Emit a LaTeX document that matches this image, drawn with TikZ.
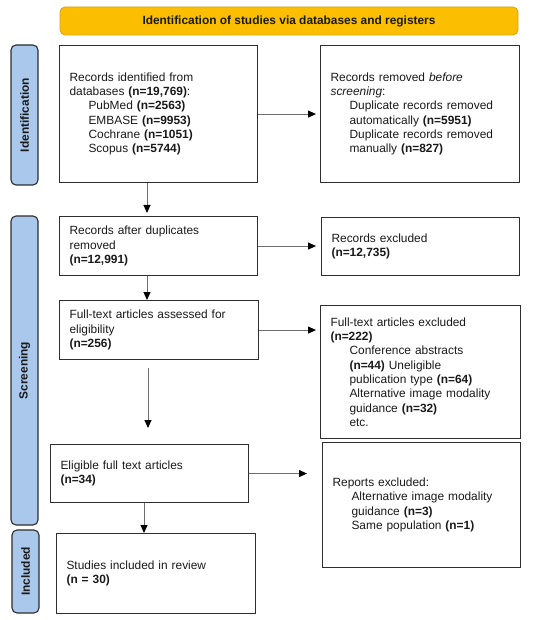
\documentclass[tikz,border=0pt]{standalone}
\usepackage{fontspec}
\setmainfont{Liberation Sans}
\usetikzlibrary{arrows.meta,calc}
\definecolor{gold}{HTML}{FBBE00}
\definecolor{goldline}{HTML}{D6A21A}
\definecolor{sideblue}{HTML}{A9C8EC}
\definecolor{boxline}{HTML}{2E2E2E}
\definecolor{arrline}{HTML}{6E6E6E}
\definecolor{txt}{HTML}{1A1A1A}
\newcommand\bnum[1]{\textbf{#1}}
\newcommand\ind{\hspace*{19pt}}
\tikzset{
  flowbox/.style={draw=boxline, line width=1.1pt, fill=white, anchor=north west,
    inner xsep=10pt, inner ysep=0pt, align=left, text=txt,
    font=\fontsize{11.9}{14.3}\selectfont},
  sidelabel/.style={draw=boxline, line width=1.1pt, fill=sideblue, rounded corners=5pt,
    rotate=90, inner sep=0pt, text=txt, font=\fontsize{11.9}{14.3}\selectfont\bfseries},
  banner/.style={draw=goldline, line width=0.8pt, fill=gold, rounded corners=5pt,
    inner sep=0pt, text=txt, font=\fontsize{11.9}{14.3}\selectfont\bfseries},
  arr/.style={draw=arrline, line width=1pt, -{Triangle[length=8pt,width=7pt,fill=black,color=black]}}
}
\begin{document}
\begin{tikzpicture}[x=1pt,y=-1pt]
\useasboundingbox (0,0) rectangle (550,620);
\fill[white] (0,0) rectangle (550,620);

\node[banner, minimum width=458pt, minimum height=28pt] (ban) at (289,21)
  {Identification of studies via databases and registers};

\node[sidelabel, minimum width=140pt, minimum height=27pt] (sid) at (24.5,115) {Identification};
\node[sidelabel, minimum width=309pt, minimum height=27pt] (sscr) at (24.5,370.5) {Screening};
\node[sidelabel, minimum width=83pt, minimum height=27pt] (sinc) at (25.5,571.5) {Included};

\node[flowbox, text width=178pt, minimum height=137pt] (b1) at (59,45)
  {Records identified from\\
   databases \bnum{(n=19,769)}:\\
   \ind PubMed \bnum{(n=2563)}\\
   \ind EMBASE \bnum{(n=9953)}\\
   \ind Cochrane \bnum{(n=1051)}\\
   \ind Scopus \bnum{(n=5744)}};

\node[flowbox, text width=179pt, minimum height=137pt] (b2) at (320,45)
  {Records removed \textit{before}\\
   \textit{screening}:\\
   \ind Duplicate records removed\\
   \ind automatically \bnum{(n=5951)}\\
   \ind Duplicate records removed\\
   \ind manually \bnum{(n=827)}};

\node[flowbox, text width=178pt, minimum height=59pt] (b3) at (59,216)
  {Records after duplicates\\
   removed\\
   \bnum{(n=12,991)}};

\node[flowbox, text width=178pt, minimum height=58pt] (b4) at (321,217)
  {Records excluded\\
   \bnum{(n=12,735)}};

\node[flowbox, text width=179pt, minimum height=59pt] (b5) at (59,300)
  {Full-text articles assessed for\\
   eligibility\\
   \bnum{(n=256)}};

\node[flowbox, text width=180pt, minimum height=133pt] (b6) at (320,305)
  {Full-text articles excluded\\
   \bnum{(n=222)}\\
   \ind Conference abstracts\\
   \ind \bnum{(n=44)} Uneligible\\
   \ind publication type \bnum{(n=64)}\\
   \ind Alternative image modality\\
   \ind guidance \bnum{(n=32)}\\
   \ind etc.};

\node[flowbox, text width=178pt, minimum height=58pt] (b7) at (50,444)
  {Eligible full text articles\\
   \bnum{(n=34)}};

\node[flowbox, text width=178pt, minimum height=125pt] (b8) at (322,442)
  {Reports excluded:\\
   \ind Alternative image modality\\
   \ind guidance \bnum{(n=3)}\\
   \ind Same population \bnum{(n=1)}};

\node[flowbox, text width=179pt, minimum height=80pt] (b9) at (56,533)
  {Studies included in review\\
   \bnum{(n = 30)}};

\coordinate (v1) at (147,0);
\coordinate (v3) at (148,0);
\coordinate (v4) at (144,0);

\draw[arr, shorten >=4pt] (b1.east) -- (b2.west |- b1.east);
\draw[arr, shorten >=5pt] (b3.east) -- (b4.west |- b3.east);
\draw[arr, shorten >=4pt] (b5.east) -- (b6.west |- b5.east);
\draw[arr, shorten >=15pt] (b7.east) -- (b8.west |- b7.east);

\draw[arr, shorten >=3pt] (b1.south -| v1) -- (b3.north -| v1);
\draw[arr] (b3.south -| v1) -- (b5.north -| v1);
\draw[arr, shorten <=8pt, shorten >=16pt] (b5.south -| v3) -- (b7.north -| v3);
\draw[arr] (b7.south -| v4) -- (b9.north -| v4);
\end{tikzpicture}
\end{document}
